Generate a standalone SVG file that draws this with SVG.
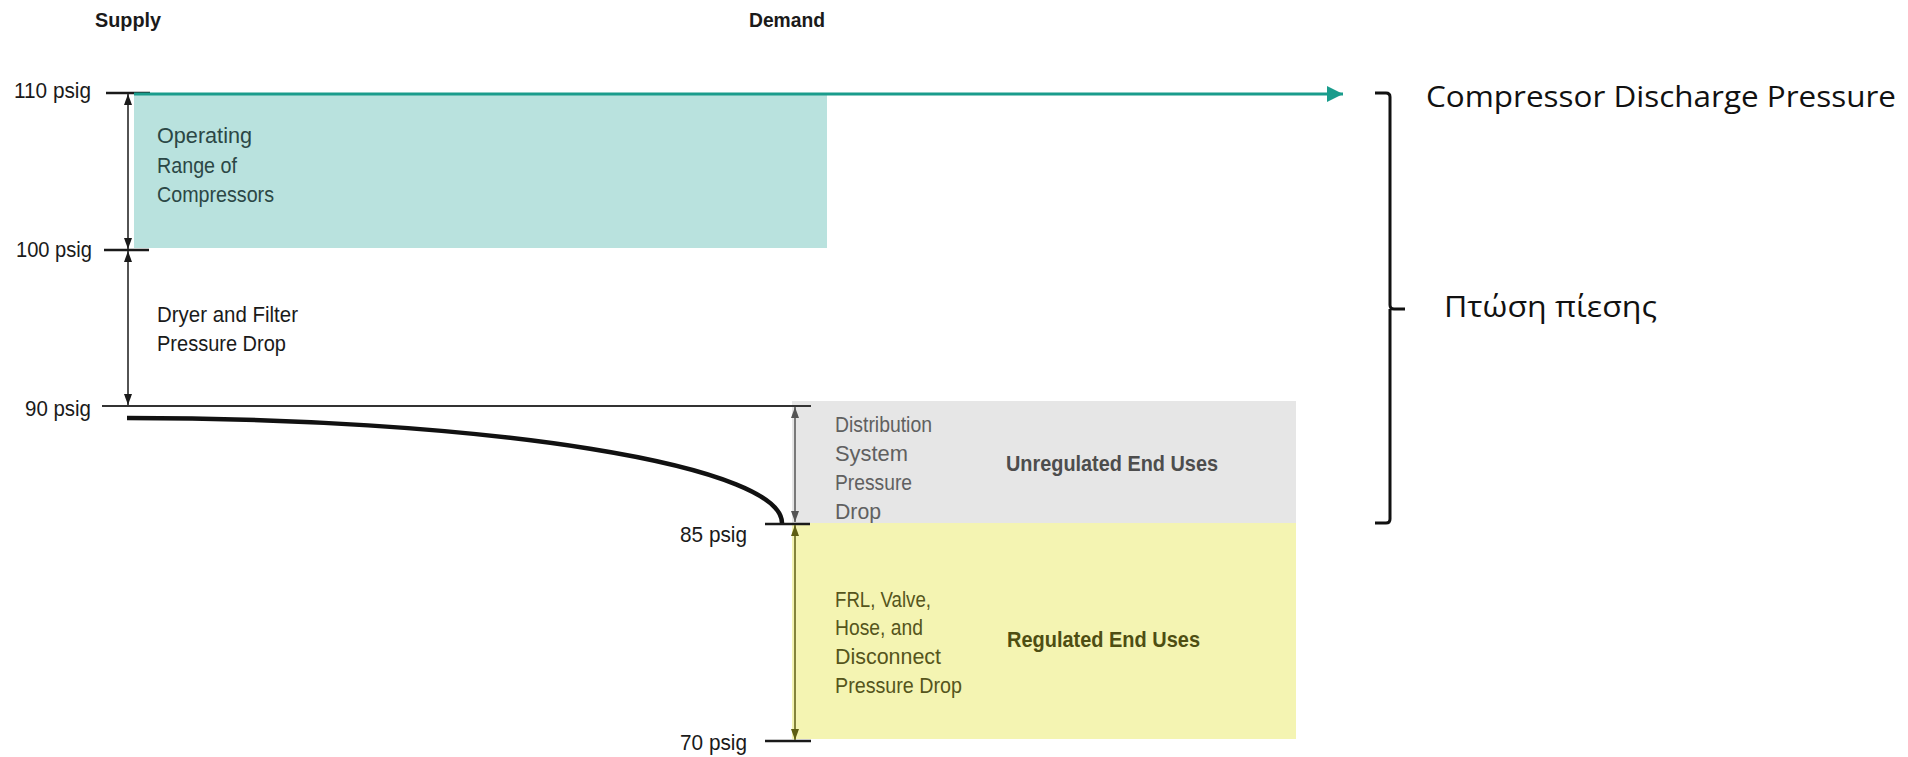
<svg xmlns="http://www.w3.org/2000/svg" width="1908" height="757" viewBox="0 0 1908 757">
<style>
.lbl{font-family:"Liberation Sans",Arial,sans-serif;font-size:22px;fill:#1a1a1a}
.hdr{font-family:"Liberation Sans",Arial,sans-serif;font-size:20px;font-weight:bold;fill:#1a1a1a}
.big{font-family:"Open Sans","Noto Sans",sans-serif;font-size:30px;fill:#111}
.tick{stroke:#1a1a1a;stroke-width:2.5;fill:none}
.dim{stroke:#1a1a1a;stroke-width:1.5;fill:none}
</style>
<defs>
<marker id="ahBlack" viewBox="0 0 11 8" refX="11" refY="4" markerWidth="11" markerHeight="8" markerUnits="userSpaceOnUse" orient="auto-start-reverse"><path d="M0,0 L11,4 L0,8 z" fill="#1a1a1a"/></marker>
<marker id="ahGray" viewBox="0 0 11 8" refX="11" refY="4" markerWidth="11" markerHeight="8" markerUnits="userSpaceOnUse" orient="auto-start-reverse"><path d="M0,0 L11,4 L0,8 z" fill="#555"/></marker>
<marker id="ahOlive" viewBox="0 0 11 8" refX="11" refY="4" markerWidth="11" markerHeight="8" markerUnits="userSpaceOnUse" orient="auto-start-reverse"><path d="M0,0 L11,4 L0,8 z" fill="#5e5e14"/></marker>
<marker id="ahTeal" viewBox="0 0 16 16" refX="16" refY="8" markerWidth="16" markerHeight="16" markerUnits="userSpaceOnUse" orient="auto"><path d="M0,0 L16,8 L0,16 z" fill="#1a9c8c"/></marker>
</defs>
<rect width="1908" height="757" fill="#fff"/>

<g id="headers">
<text class="hdr" x="95" y="27" textLength="66" lengthAdjust="spacingAndGlyphs">Supply</text>
<text class="hdr" x="749" y="27" textLength="76" lengthAdjust="spacingAndGlyphs">Demand</text>
</g>

<g id="box-operating">
<rect x="134" y="95" width="693" height="153" fill="#b9e2de"/>
<text class="lbl" x="157" y="143" fill="#2b4745" style="fill:#2b4745" textLength="95" lengthAdjust="spacingAndGlyphs">Operating</text>
<text class="lbl" x="157" y="173" style="fill:#2b4745" textLength="80" lengthAdjust="spacingAndGlyphs">Range of</text>
<text class="lbl" x="157" y="202" style="fill:#2b4745" textLength="117" lengthAdjust="spacingAndGlyphs">Compressors</text>
</g>

<g id="box-distribution">
<rect x="792" y="401" width="504" height="122" fill="#e6e6e6"/>
<text class="lbl" x="835" y="432" style="fill:#606060" textLength="97" lengthAdjust="spacingAndGlyphs">Distribution</text>
<text class="lbl" x="835" y="461" style="fill:#606060" textLength="73" lengthAdjust="spacingAndGlyphs">System</text>
<text class="lbl" x="835" y="490" style="fill:#606060" textLength="77" lengthAdjust="spacingAndGlyphs">Pressure</text>
<text class="lbl" x="835" y="519" style="fill:#606060" textLength="46" lengthAdjust="spacingAndGlyphs">Drop</text>
<text class="lbl" x="1006" y="471" style="fill:#4d4d4d;font-weight:bold" textLength="212" lengthAdjust="spacingAndGlyphs">Unregulated End Uses</text>
</g>

<g id="box-regulated">
<rect x="792" y="523" width="504" height="216" fill="#f4f4b2"/>
<text class="lbl" x="835" y="607" style="fill:#55551c" textLength="96" lengthAdjust="spacingAndGlyphs">FRL, Valve,</text>
<text class="lbl" x="835" y="635" style="fill:#55551c" textLength="88" lengthAdjust="spacingAndGlyphs">Hose, and</text>
<text class="lbl" x="835" y="664" style="fill:#55551c" textLength="106" lengthAdjust="spacingAndGlyphs">Disconnect</text>
<text class="lbl" x="835" y="693" style="fill:#55551c" textLength="127" lengthAdjust="spacingAndGlyphs">Pressure Drop</text>
<text class="lbl" x="1007" y="647" style="fill:#4e4e12;font-weight:bold" textLength="193" lengthAdjust="spacingAndGlyphs">Regulated End Uses</text>
</g>

<g id="dryer-label">
<text class="lbl" x="157" y="322" textLength="141" lengthAdjust="spacingAndGlyphs">Dryer and Filter</text>
<text class="lbl" x="157" y="351" textLength="129" lengthAdjust="spacingAndGlyphs">Pressure Drop</text>
</g>

<g id="levels">
<line class="tick" x1="106" y1="93" x2="150" y2="93"/>
<text class="lbl" x="14" y="98" textLength="77" lengthAdjust="spacingAndGlyphs">110 psig</text>
<line class="tick" x1="104" y1="250" x2="149" y2="250"/>
<text class="lbl" x="16" y="257" textLength="76" lengthAdjust="spacingAndGlyphs">100 psig</text>
<line x1="102" y1="406" x2="811" y2="406" stroke="#333" stroke-width="2"/>
<text class="lbl" x="25" y="416" textLength="66" lengthAdjust="spacingAndGlyphs">90 psig</text>
<line class="tick" x1="765" y1="524" x2="810" y2="524"/>
<text class="lbl" x="680" y="542" textLength="67" lengthAdjust="spacingAndGlyphs">85 psig</text>
<line class="tick" x1="765" y1="741" x2="811" y2="741"/>
<text class="lbl" x="680" y="750" textLength="67" lengthAdjust="spacingAndGlyphs">70 psig</text>
</g>

<g id="connectors">
<line x1="134" y1="94" x2="1343" y2="94" stroke="#1a9c8c" stroke-width="3" marker-end="url(#ahTeal)"/>
<line class="dim" x1="128" y1="94" x2="128" y2="249" marker-start="url(#ahBlack)" marker-end="url(#ahBlack)"/>
<line class="dim" x1="128" y1="251" x2="128" y2="405" marker-start="url(#ahBlack)" marker-end="url(#ahBlack)"/>
<line x1="795" y1="407" x2="795" y2="522" stroke="#555" stroke-width="1.5" marker-start="url(#ahGray)" marker-end="url(#ahGray)"/>
<line x1="795" y1="525" x2="795" y2="740" stroke="#5e5e14" stroke-width="1.5" marker-start="url(#ahOlive)" marker-end="url(#ahOlive)"/>
<path id="pressure-curve" d="M127,418 A655,105 0 0 1 782,523" fill="none" stroke="#111" stroke-width="4.5"/>
</g>

<g id="brace">
<path d="M1375,93 L1386,93 Q1390,93 1390,97 L1390,305 Q1390,309 1394,309 L1405,309 M1390,309 L1390,519 Q1390,523 1386,523 L1375,523" fill="none" stroke="#111" stroke-width="3"/>
</g>

<g id="right-labels">
<text class="big" x="1426" y="107" textLength="470" lengthAdjust="spacingAndGlyphs">Compressor Discharge Pressure</text>
<text class="big" x="1444" y="317" textLength="213" lengthAdjust="spacingAndGlyphs">Πτώση πίεσης</text>
</g>
</svg>
